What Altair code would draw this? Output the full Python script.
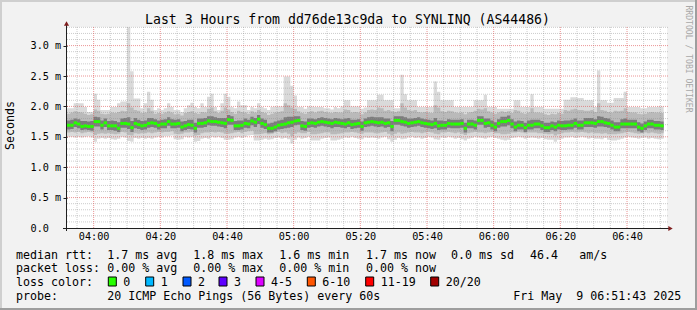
import altair as alt
import pandas as pd

# ---------------- data (ms), one sample per minute starting 03:52 ----------------
START_MIN = 232  # 03:52 in minutes after midnight
END_MIN = 412    # 06:52

median = [1.69,1.69,1.73,1.71,1.67,1.68,1.67,1.67,1.75,1.75,
          1.69,1.73,1.68,1.68,1.68,1.64,1.72,1.72,1.71,1.65,
          1.72,1.70,1.68,1.69,1.72,1.73,1.72,1.69,1.71,1.71,
          1.75,1.71,1.71,1.72,1.66,1.68,1.70,1.69,1.64,1.72,
          1.72,1.73,1.76,1.75,1.75,1.74,1.73,1.72,1.78,1.77,
          1.68,1.68,1.69,1.72,1.71,1.76,1.74,1.79,1.72,1.70,
          1.64,1.64,1.66,1.69,1.70,1.71,1.73,1.74,1.76,1.77,
          1.68,1.67,1.72,1.73,1.72,1.74,1.75,1.74,1.73,1.72,
          1.74,1.73,1.72,1.71,1.73,1.70,1.71,1.72,1.67,1.73,
          1.74,1.75,1.74,1.73,1.74,1.72,1.73,1.67,1.77,1.77,
          1.75,1.74,1.72,1.73,1.74,1.75,1.73,1.72,1.71,1.70,
          1.72,1.68,1.69,1.69,1.72,1.71,1.71,1.71,1.72,1.64,
          1.71,1.71,1.69,1.77,1.77,1.72,1.73,1.69,1.66,1.72,
          1.75,1.75,1.77,1.71,1.66,1.69,1.69,1.65,1.69,1.69,
          1.71,1.71,1.68,1.65,1.65,1.68,1.66,1.69,1.68,1.68,
          1.69,1.69,1.72,1.69,1.69,1.73,1.73,1.73,1.72,1.75,
          1.75,1.73,1.72,1.69,1.66,1.66,1.71,1.71,1.71,1.71,
          1.71,1.66,1.64,1.68,1.71,1.71,1.69,1.69,1.68]

rtt_max = [1.97,1.97,2.05,2.05,2.05,1.99,1.91,1.91,2.21,2.11,
           1.94,1.94,1.94,1.99,1.99,2.05,2.08,2.08,3.30,2.58,
           2.13,2.13,1.97,2.05,2.24,2.11,1.94,1.97,1.94,1.97,
           2.05,1.99,1.94,1.94,1.91,1.97,2.02,2.06,1.99,1.97,
           2.05,1.99,2.16,2.21,1.99,1.94,2.05,2.21,2.16,1.99,
           1.97,2.08,2.02,2.02,1.94,1.99,1.97,2.05,1.99,1.97,
           1.94,1.99,2.00,2.00,2.00,2.49,2.49,2.34,2.18,1.99,
           1.99,1.96,2.00,2.00,1.99,1.99,1.99,1.97,1.97,1.95,
           1.99,1.97,2.00,2.10,2.10,2.00,2.00,2.00,1.96,1.98,
           2.10,2.10,2.10,2.19,2.19,2.10,2.10,2.10,1.97,1.97,
           2.52,2.20,2.10,2.10,2.10,1.99,1.99,1.99,1.99,1.99,
           2.41,2.24,2.10,2.10,2.10,2.10,1.99,1.99,1.99,1.99,
           1.99,1.99,2.10,2.10,2.10,2.19,1.99,1.99,1.99,1.96,
           1.96,1.96,1.96,1.96,2.10,2.10,1.99,1.99,1.99,2.20,
           1.99,1.99,1.99,1.96,1.96,1.96,1.96,1.96,1.96,2.11,
           2.11,2.15,2.15,2.14,2.14,2.10,2.10,2.10,1.99,2.59,
           2.10,2.10,2.06,2.06,2.14,2.14,2.14,2.24,1.99,1.99,
           1.99,1.99,1.97,1.97,1.99,1.99,1.99,2.00,2.00]

rtt_min = [1.50,1.50,1.49,1.50,1.49,1.50,1.51,1.49,1.42,1.47,
           1.48,1.47,1.48,1.46,1.45,1.47,1.50,1.49,1.43,1.42,
           1.48,1.47,1.48,1.47,1.48,1.47,1.49,1.50,1.49,1.51,
           1.51,1.52,1.46,1.45,1.46,1.50,1.49,1.50,1.42,1.43,
           1.47,1.48,1.47,1.50,1.49,1.50,1.48,1.45,1.45,1.46,
           1.49,1.50,1.48,1.50,1.52,1.53,1.44,1.44,1.45,1.47,
           1.45,1.46,1.48,1.49,1.47,1.48,1.46,1.39,1.45,1.49,
           1.47,1.48,1.50,1.44,1.44,1.44,1.47,1.48,1.49,1.44,
           1.44,1.45,1.47,1.49,1.48,1.50,1.48,1.47,1.46,1.49,
           1.48,1.49,1.48,1.47,1.49,1.50,1.46,1.42,1.45,1.48,
           1.46,1.47,1.49,1.50,1.48,1.49,1.47,1.48,1.50,1.49,
           1.46,1.45,1.49,1.48,1.50,1.49,1.47,1.48,1.46,1.44,
           1.47,1.48,1.50,1.49,1.48,1.47,1.49,1.50,1.48,1.47,
           1.45,1.44,1.45,1.48,1.49,1.50,1.49,1.47,1.48,1.49,
           1.48,1.47,1.48,1.46,1.45,1.45,1.42,1.45,1.47,1.49,
           1.49,1.50,1.48,1.49,1.50,1.49,1.47,1.48,1.47,1.47,
           1.46,1.48,1.45,1.44,1.44,1.45,1.47,1.49,1.50,1.49,
           1.48,1.47,1.48,1.49,1.47,1.48,1.47,1.46,1.47]

smoke_hi2 = [1.88,1.90,1.92,1.91,1.90,1.88,1.86,1.87,1.95,1.93,
             1.88,1.87,1.88,1.90,1.89,1.91,1.93,1.92,2.05,1.98,
             1.94,1.93,1.89,1.90,1.97,1.93,1.88,1.89,1.88,1.90,
             1.92,1.90,1.87,1.88,1.85,1.89,1.91,1.92,1.89,1.88,
             1.91,1.90,1.96,1.98,1.92,1.89,1.93,1.98,1.95,1.91,
             1.88,1.93,1.91,1.90,1.88,1.92,1.90,1.94,1.91,1.89,
             1.86,1.88,1.90,1.91,1.92,2.05,2.02,1.98,1.96,1.92,
             1.89,1.88,1.91,1.92,1.90,1.92,1.93,1.91,1.90,1.89,
             1.91,1.90,1.90,1.95,1.94,1.90,1.91,1.90,1.87,1.90,
             1.94,1.95,1.94,1.98,1.97,1.93,1.94,1.92,1.91,1.92,
             2.05,1.98,1.94,1.93,1.94,1.91,1.90,1.91,1.90,1.89,
             2.02,1.98,1.92,1.91,1.93,1.92,1.90,1.89,1.90,1.87,
             1.90,1.91,1.93,1.96,1.95,1.97,1.92,1.90,1.88,1.90,
             1.92,1.91,1.92,1.89,1.94,1.93,1.89,1.88,1.90,1.97,
             1.90,1.90,1.89,1.87,1.86,1.88,1.87,1.89,1.88,1.94,
             1.93,1.95,1.96,1.94,1.94,1.93,1.93,1.94,1.91,2.05,
             1.94,1.93,1.91,1.90,1.93,1.92,1.93,1.97,1.91,1.90,
             1.90,1.88,1.87,1.88,1.90,1.91,1.90,1.90,1.89]

smoke_lo2 = [1.57,1.58,1.57,1.58,1.56,1.57,1.58,1.57,1.53,1.55,
             1.56,1.55,1.56,1.55,1.54,1.55,1.58,1.57,1.53,1.52,
             1.56,1.55,1.56,1.56,1.57,1.56,1.57,1.58,1.57,1.58,
             1.58,1.59,1.55,1.54,1.55,1.57,1.57,1.58,1.52,1.53,
             1.56,1.57,1.57,1.58,1.57,1.58,1.57,1.55,1.55,1.56,
             1.57,1.58,1.56,1.58,1.59,1.60,1.54,1.54,1.55,1.56,
             1.54,1.55,1.57,1.58,1.56,1.57,1.55,1.51,1.55,1.57,
             1.56,1.56,1.58,1.54,1.54,1.55,1.56,1.57,1.57,1.54,
             1.54,1.55,1.56,1.57,1.57,1.58,1.57,1.56,1.55,1.57,
             1.57,1.57,1.56,1.56,1.57,1.58,1.55,1.52,1.55,1.57,
             1.55,1.56,1.57,1.58,1.57,1.57,1.56,1.57,1.58,1.57,
             1.55,1.54,1.57,1.57,1.58,1.57,1.56,1.57,1.55,1.53,
             1.56,1.57,1.58,1.57,1.57,1.56,1.57,1.58,1.56,1.56,
             1.54,1.54,1.55,1.57,1.57,1.58,1.57,1.56,1.57,1.57,
             1.57,1.56,1.56,1.55,1.54,1.55,1.52,1.54,1.56,1.57,
             1.57,1.58,1.57,1.57,1.58,1.57,1.56,1.57,1.56,1.56,
             1.55,1.56,1.54,1.54,1.54,1.55,1.56,1.57,1.58,1.57,
             1.56,1.55,1.56,1.57,1.56,1.57,1.56,1.55,1.56]

smoke_hi3 = [1.77,1.78,1.80,1.79,1.76,1.76,1.75,1.76,1.83,1.82,
             1.77,1.80,1.76,1.77,1.76,1.74,1.80,1.81,1.82,1.76,
             1.81,1.78,1.76,1.77,1.81,1.81,1.79,1.77,1.78,1.79,
             1.82,1.79,1.78,1.79,1.75,1.76,1.78,1.78,1.73,1.80,
             1.80,1.81,1.84,1.84,1.82,1.81,1.81,1.81,1.86,1.84,
             1.76,1.77,1.77,1.80,1.78,1.83,1.81,1.86,1.80,1.78,
             1.72,1.73,1.75,1.77,1.78,1.82,1.83,1.83,1.84,1.84,
             1.76,1.75,1.80,1.80,1.79,1.81,1.82,1.81,1.80,1.79,
             1.81,1.80,1.79,1.80,1.81,1.78,1.78,1.79,1.75,1.80,
             1.82,1.83,1.82,1.82,1.82,1.80,1.80,1.76,1.84,1.84,
             1.84,1.82,1.80,1.80,1.81,1.82,1.80,1.79,1.78,1.77,
             1.81,1.77,1.77,1.76,1.79,1.78,1.78,1.78,1.79,1.73,
             1.78,1.78,1.77,1.84,1.84,1.80,1.80,1.77,1.74,1.79,
             1.83,1.83,1.85,1.79,1.75,1.77,1.76,1.73,1.77,1.78,
             1.78,1.78,1.76,1.73,1.73,1.75,1.74,1.77,1.76,1.77,
             1.77,1.78,1.80,1.77,1.77,1.81,1.81,1.81,1.79,1.84,
             1.83,1.81,1.80,1.77,1.74,1.74,1.79,1.80,1.78,1.78,
             1.78,1.74,1.72,1.75,1.78,1.78,1.76,1.76,1.75]

smoke_lo3 = [1.62,1.63,1.66,1.64,1.61,1.62,1.61,1.60,1.67,1.67,
             1.62,1.66,1.61,1.61,1.60,1.58,1.65,1.65,1.63,1.58,
             1.64,1.63,1.61,1.62,1.65,1.66,1.65,1.62,1.64,1.64,
             1.68,1.64,1.64,1.65,1.59,1.61,1.63,1.62,1.57,1.65,
             1.65,1.66,1.69,1.68,1.68,1.67,1.66,1.64,1.70,1.70,
             1.61,1.61,1.62,1.65,1.64,1.69,1.66,1.71,1.65,1.63,
             1.57,1.57,1.59,1.62,1.63,1.64,1.65,1.66,1.69,1.70,
             1.61,1.60,1.65,1.66,1.65,1.67,1.68,1.67,1.66,1.64,
             1.66,1.66,1.65,1.64,1.66,1.63,1.64,1.65,1.60,1.66,
             1.67,1.68,1.67,1.66,1.67,1.65,1.66,1.59,1.70,1.70,
             1.68,1.67,1.65,1.66,1.67,1.68,1.66,1.65,1.64,1.63,
             1.64,1.61,1.62,1.62,1.65,1.64,1.64,1.64,1.65,1.57,
             1.64,1.64,1.62,1.70,1.70,1.65,1.66,1.62,1.59,1.65,
             1.67,1.67,1.69,1.64,1.59,1.62,1.62,1.58,1.62,1.62,
             1.64,1.64,1.61,1.58,1.58,1.61,1.59,1.62,1.61,1.61,
             1.62,1.62,1.65,1.62,1.62,1.66,1.66,1.66,1.65,1.67,
             1.67,1.66,1.65,1.62,1.59,1.59,1.64,1.64,1.64,1.64,
             1.64,1.59,1.57,1.61,1.64,1.64,1.62,1.62,1.61]

x_tick_minutes = [240, 260, 280, 300, 320, 340, 360, 380, 400]
x_tick_labels = ["04:00", "04:20", "04:40", "05:00", "05:20", "05:40", "06:00", "06:20", "06:40"]
x_minor_minutes = [235, 245, 250, 255, 265, 270, 275, 285, 290, 295, 305, 310, 315,
                   325, 330, 335, 345, 350, 355, 365, 370, 375, 385, 390, 395, 405, 410]
y_tick_values = [0.0, 0.5, 1.0, 1.5, 2.0, 2.5, 3.0]
y_tick_labels = ["0.0", "0.5 m", "1.0 m", "1.5 m", "2.0 m", "2.5 m", "3.0 m"]
y_minor_values = [0.1, 0.2, 0.3, 0.4, 0.6, 0.7, 0.8, 0.9, 1.1, 1.2, 1.3, 1.4, 1.6, 1.7,
                  1.8, 1.9, 2.1, 2.2, 2.3, 2.4, 2.6, 2.7, 2.8, 2.9, 3.1, 3.2, 3.3]

title_text = "Last 3 Hours from dd76de13c9da to SYNLINQ (AS44486)"
legend_line1 = ["median rtt:", "1.7 ms avg", "1.8 ms max", "1.6 ms min", "1.7 ms now", "0.0 ms sd", "46.4", "am/s"]
legend_line2 = ["packet loss:", "0.00 % avg", "0.00 % max", "0.00 % min", "0.00 % now"]
loss_labels = ["0", "1", "2", "3", "4-5", "6-10", "11-19", "20/20"]
loss_colors = ["#26ff00", "#00b8ff", "#0059ff", "#5e00ff", "#dd00ff", "#ff5500", "#ff0000", "#a10000"]
probe_text = "20 ICMP Echo Pings (56 Bytes) every 60s"
date_text = "Fri May\u00a0\u00a09 06:51:43 2025"

# ---------------- layout (pixels) ----------------
OX, OY = 67, 27          # plot origin in the page
PW, PH = 600, 201        # plot size
FONT = "DejaVu Sans Mono"
LEG_FS = 11.63
line1_x = [16, 107.3, 193.3, 279.3, 366, 451, 530, 579.3]
line2_x = [16, 107.3, 193.3, 279.3, 366]
box_x = [108.3, 145.7, 183, 219, 256, 307.3, 365.7, 430.7]
line_y = [258.5, 272.3, 286.2, 300.0]

n = len(median)
for arr in (rtt_max, rtt_min, smoke_hi2, smoke_lo2, smoke_hi3, smoke_lo3):
    assert len(arr) == n

minutes = [START_MIN + i for i in range(n)]
step_t = minutes + [START_MIN + n]


def ext(a):
    return list(a) + [a[-1]]


smoke = pd.DataFrame({"t": step_t, "mn": ext(rtt_min), "mx": ext(rtt_max),
                      "lo2": ext(smoke_lo2), "hi2": ext(smoke_hi2),
                      "lo3": ext(smoke_lo3), "hi3": ext(smoke_hi3)})
med = pd.DataFrame({"t0": minutes, "t1": [m + 1 for m in minutes], "med": median})

xs = alt.Scale(domain=[START_MIN, END_MIN], nice=False, zero=False)
ys = alt.Scale(domain=[0, 3.306], nice=False, zero=True)

x_expr = " : ".join(f"datum.value == {m} ? '{l}'" for m, l in zip(x_tick_minutes, x_tick_labels)) + " : ''"
y_expr = " : ".join(f"abs(datum.value - {v}) < 0.01 ? '{l}'" for v, l in zip(y_tick_values, y_tick_labels)) + " : ''"

x_axis = alt.Axis(values=x_tick_minutes, labelExpr=x_expr, title=None, grid=False, domain=False,
                  ticks=False, labelFont=FONT, labelFontSize=10.2, labelColor="#000000",
                  labelPadding=3, labelFlush=False, labelOverlap=False)
y_axis = alt.Axis(values=y_tick_values, labelExpr=y_expr, title=None, grid=False, domain=False,
                  ticks=True, tickSize=4, tickColor="#1f1f1f", labelAlign="left", labelPadding=33,
                  labelFont=FONT, labelFontSize=10.2, labelColor="#000000", labelOverlap=False)


def X(field, **kw):
    return alt.X(field, scale=xs, axis=x_axis, **kw)


def Y(field, **kw):
    return alt.Y(field, scale=ys, axis=y_axis, **kw)


band1 = alt.Chart(smoke).mark_area(interpolate="step-after", color="#dadada").encode(
    x=X("t:Q"), y=Y("mx:Q"), y2="mn:Q")
band2 = alt.Chart(smoke).mark_area(interpolate="step-after", color="#bababa").encode(
    x=X("t:Q"), y=Y("hi2:Q"), y2="lo2:Q")
band3 = alt.Chart(smoke).mark_area(interpolate="step-after", color="#7c7c7c").encode(
    x=X("t:Q"), y=Y("hi3:Q"), y2="lo3:Q")

hmin = alt.Chart(pd.DataFrame({"v": y_minor_values})).mark_rule(
    color="#8f8f8f", strokeOpacity=0.45, strokeDash=[1, 1], strokeWidth=1).encode(
    y=Y("v:Q"), x=alt.value(0), x2=alt.value(PW + 1))
vmin = alt.Chart(pd.DataFrame({"v": x_minor_minutes})).mark_rule(
    color="#8f8f8f", strokeOpacity=0.45, strokeDash=[1, 1], strokeWidth=1).encode(
    x=X("v:Q"), y=alt.value(0), y2=alt.value(PH))
hmaj = alt.Chart(pd.DataFrame({"v": y_tick_values[1:]})).mark_rule(
    color="#de4f4f", strokeOpacity=0.6, strokeDash=[1, 1], strokeWidth=1).encode(
    y=Y("v:Q"), x=alt.value(0), x2=alt.value(PW + 1))
vmaj = alt.Chart(pd.DataFrame({"v": x_tick_minutes})).mark_rule(
    color="#de4f4f", strokeOpacity=0.6, strokeDash=[1, 1], strokeWidth=1).encode(
    x=X("v:Q"), y=alt.value(0), y2=alt.value(PH))

med_layer = alt.Chart(med).mark_rule(color="#26ff00", strokeWidth=3, strokeCap="butt").encode(
    x=X("t0:Q"), x2="t1:Q", y=Y("med:Q"))

ONE = alt.Data(values=[{"a": 1}])


def rule(x1, y1, x2, y2, color, width=1):
    return alt.Chart(ONE).mark_rule(color=color, strokeWidth=width).encode(
        x=alt.value(x1 - OX), x2=alt.value(x2 - OX), y=alt.value(y1 - OY), y2=alt.value(y2 - OY))


def txt(s, x, y, size=LEG_FS, align="left", baseline="alphabetic", angle=0, color="#000000"):
    return alt.Chart(ONE).mark_text(text=s, font=FONT, fontSize=size, align=align,
                                    baseline=baseline, angle=angle, color=color).encode(
        x=alt.value(x - OX), y=alt.value(y - OY))


def box(x, y, color):
    return alt.Chart(ONE).mark_rect(fill=color, stroke="#000000", strokeWidth=1).encode(
        x=alt.value(x - OX), x2=alt.value(x + 8 - OX), y=alt.value(y - OY), y2=alt.value(y + 9 - OY))


def arrow(x, y, shape):
    return alt.Chart(ONE).mark_point(shape=shape, filled=True, size=26, color="#801f1f", opacity=1).encode(
        x=alt.value(x - OX), y=alt.value(y - OY))


deco = [
    rule(66.5, 24, 66.5, 231, "#1f1f1f"),
    rule(63, 228.5, 669, 228.5, "#1f1f1f"),
    arrow(66.5, 23.5, "triangle-up"),
    arrow(670.5, 228.5, "triangle-right"),
    # frame
    rule(0, 1, 697, 1, "#cfcfcf", 2),
    rule(1, 0, 1, 310, "#cfcfcf", 2),
    rule(0, 309, 697, 309, "#9e9e9e", 2),
    rule(696, 0, 696, 310, "#9e9e9e", 2),
    txt(title_text, 347.5, 23.8, size=13.2, align="center"),
    txt("Seconds", 10.5, 125.5, align="center", baseline="middle", angle=270),
    txt("RRDTOOL / TOBI OETIKER", 687.5, 59, size=8.1, align="center", baseline="middle",
        angle=90, color="#a8a8a8"),
]
for s, x in zip(legend_line1, line1_x):
    deco.append(txt(s, x, line_y[0]))
for s, x in zip(legend_line2, line2_x):
    deco.append(txt(s, x, line_y[1]))
deco.append(txt("loss color:", 16, line_y[2]))
for lab, col, x in zip(loss_labels, loss_colors, box_x):
    deco.append(box(x, 277, col))
    deco.append(txt(lab, x + 15, line_y[2]))
deco.append(txt("probe:", 16, line_y[3]))
deco.append(txt(probe_text, 107.3, line_y[3]))
deco.append(txt(date_text, 513.3, line_y[3]))

chart = alt.layer(band1, band2, band3, hmin, vmin, hmaj, vmaj, med_layer, *deco).properties(
    width=PW, height=PH,
    autosize=alt.AutoSizeParams(type="none"),
    padding={"left": OX, "top": OY, "right": 697 - OX - PW, "bottom": 310 - OY - PH},
    background="#f2f2f2",
).configure_view(strokeWidth=0, fill="#ffffff")

chart.save("out.html", embed_options={"renderer": "svg", "actions": False})
